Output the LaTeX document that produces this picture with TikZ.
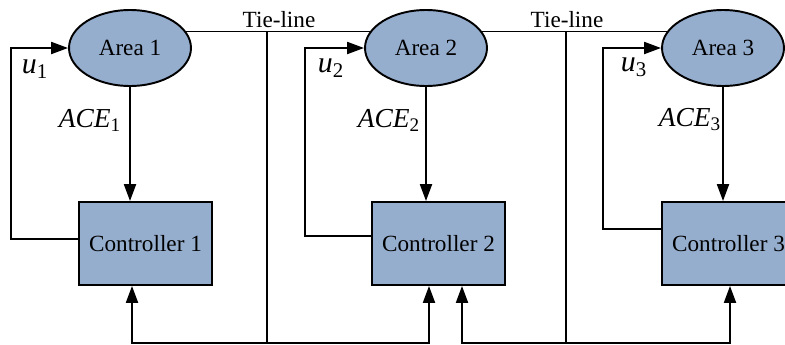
\documentclass[tikz,border=0pt]{standalone}
\usepackage{fontspec}
\setmainfont{Liberation Serif}
\newfontfamily\diagfont{Liberation Serif}
\usetikzlibrary{arrows.meta,positioning,calc,backgrounds,shapes.geometric}
\definecolor{areablue}{RGB}{150,174,206}

\begin{document}
\begin{tikzpicture}[x=0.02cm, y=-0.02cm, line width=1.1pt,
  font=\diagfont\fontsize{13.2}{15}\selectfont,
  area/.style={ellipse, draw, fill=areablue, minimum width=2.44cm,
    minimum height=1.52cm, inner sep=0pt},
  ctrl/.style={rectangle, draw, fill=areablue, minimum width=2.66cm,
    minimum height=1.66cm, inner sep=0pt},
  sig/.style={-{Triangle[length=9.6pt,width=6.8pt]}},
  sigboth/.style={{Triangle[length=9.6pt,width=6.8pt]}-{Triangle[length=9.6pt,width=6.8pt]}},
  lbl/.style={font=\diagfont\fontsize{15.6}{18}\selectfont\itshape, inner sep=0pt}]
\useasboundingbox (0,0) rectangle (785,345);
%% areas and controllers
\node[area] (area1) at (130,48) {Area 1};
\node[area] (area2) at (426,48) {Area 2};
\node[area] (area3) at (723,48) {Area 3};
\node[ctrl] (ctrl1) at (145.5,243.5) {Controller 1};
\node[ctrl] (ctrl2) at (438.5,243.5) {Controller 2};
\node[ctrl] (ctrl3) at (728.5,243.5) {Controller 3};
%% tie-lines (behind the areas)
\begin{scope}[on background layer]
\draw ($(area1.center)+(0,-17)$) -- ($(area3.center)+(0,-17)$);
\end{scope}
\coordinate (t1) at (267,31);
\coordinate (t2) at (566,31);
\node (tl1) at (279,19.5) {Tie-line};
\node (tl2) at (567,19.5) {Tie-line};
%% ACE signals
\draw[sig] (area1.south) -- (area1.south |- ctrl1.north);
\draw[sig] (area2.south) -- (area2.south |- ctrl2.north);
\draw[sig] (area3.south) -- (area3.south |- ctrl3.north);
\node[lbl, anchor=east] (ace1) at (122,120) {ACE\textsubscript{\upshape 1}};
\node[lbl, anchor=east] (ace2) at (421,120) {ACE\textsubscript{\upshape 2}};
\node[lbl, anchor=east] (ace3) at (722,120) {ACE\textsubscript{\upshape 3}};
%% control signals u
\draw[sig] ($(ctrl1.west)+(0,-4.5)$) -| ($(area1.west)+(-57,0)$) -- (area1.west);
\draw[sig] ($(ctrl2.west)+(0,-7.5)$) -| ($(area2.west)+(-59,0)$) -- (area2.west);
\draw[sig] ($(ctrl3.west)+(0,-14.5)$) -| ($(area3.west)+(-58,0)$) -- (area3.west);
\node[lbl, font=\diagfont\fontsize{17}{20}\selectfont\itshape] (u1) at (35,69) {u\textsubscript{\upshape 1}};
\node[lbl, font=\diagfont\fontsize{17}{20}\selectfont\itshape] (u2) at (331,68) {u\textsubscript{\upshape 2}};
\node[lbl, font=\diagfont\fontsize{17}{20}\selectfont\itshape] (u3) at (634,67) {u\textsubscript{\upshape 3}};
%% tie-line flows back to the controllers
\coordinate (b1) at (132,343);
\coordinate (b2) at (429,343);
\coordinate (b3) at (462,343);
\coordinate (b4) at (730,343);
\draw[sigboth] (b1 |- ctrl1.south) -- (b1) -- (b2) -- (b2 |- ctrl2.south);
\draw[sigboth] (b3 |- ctrl2.south) -- (b3) -- (b4) -- (b4 |- ctrl3.south);
\draw (t1) -- (t1 |- b1);
\draw (t2) -- (t2 |- b3);
\end{tikzpicture}
\end{document}
